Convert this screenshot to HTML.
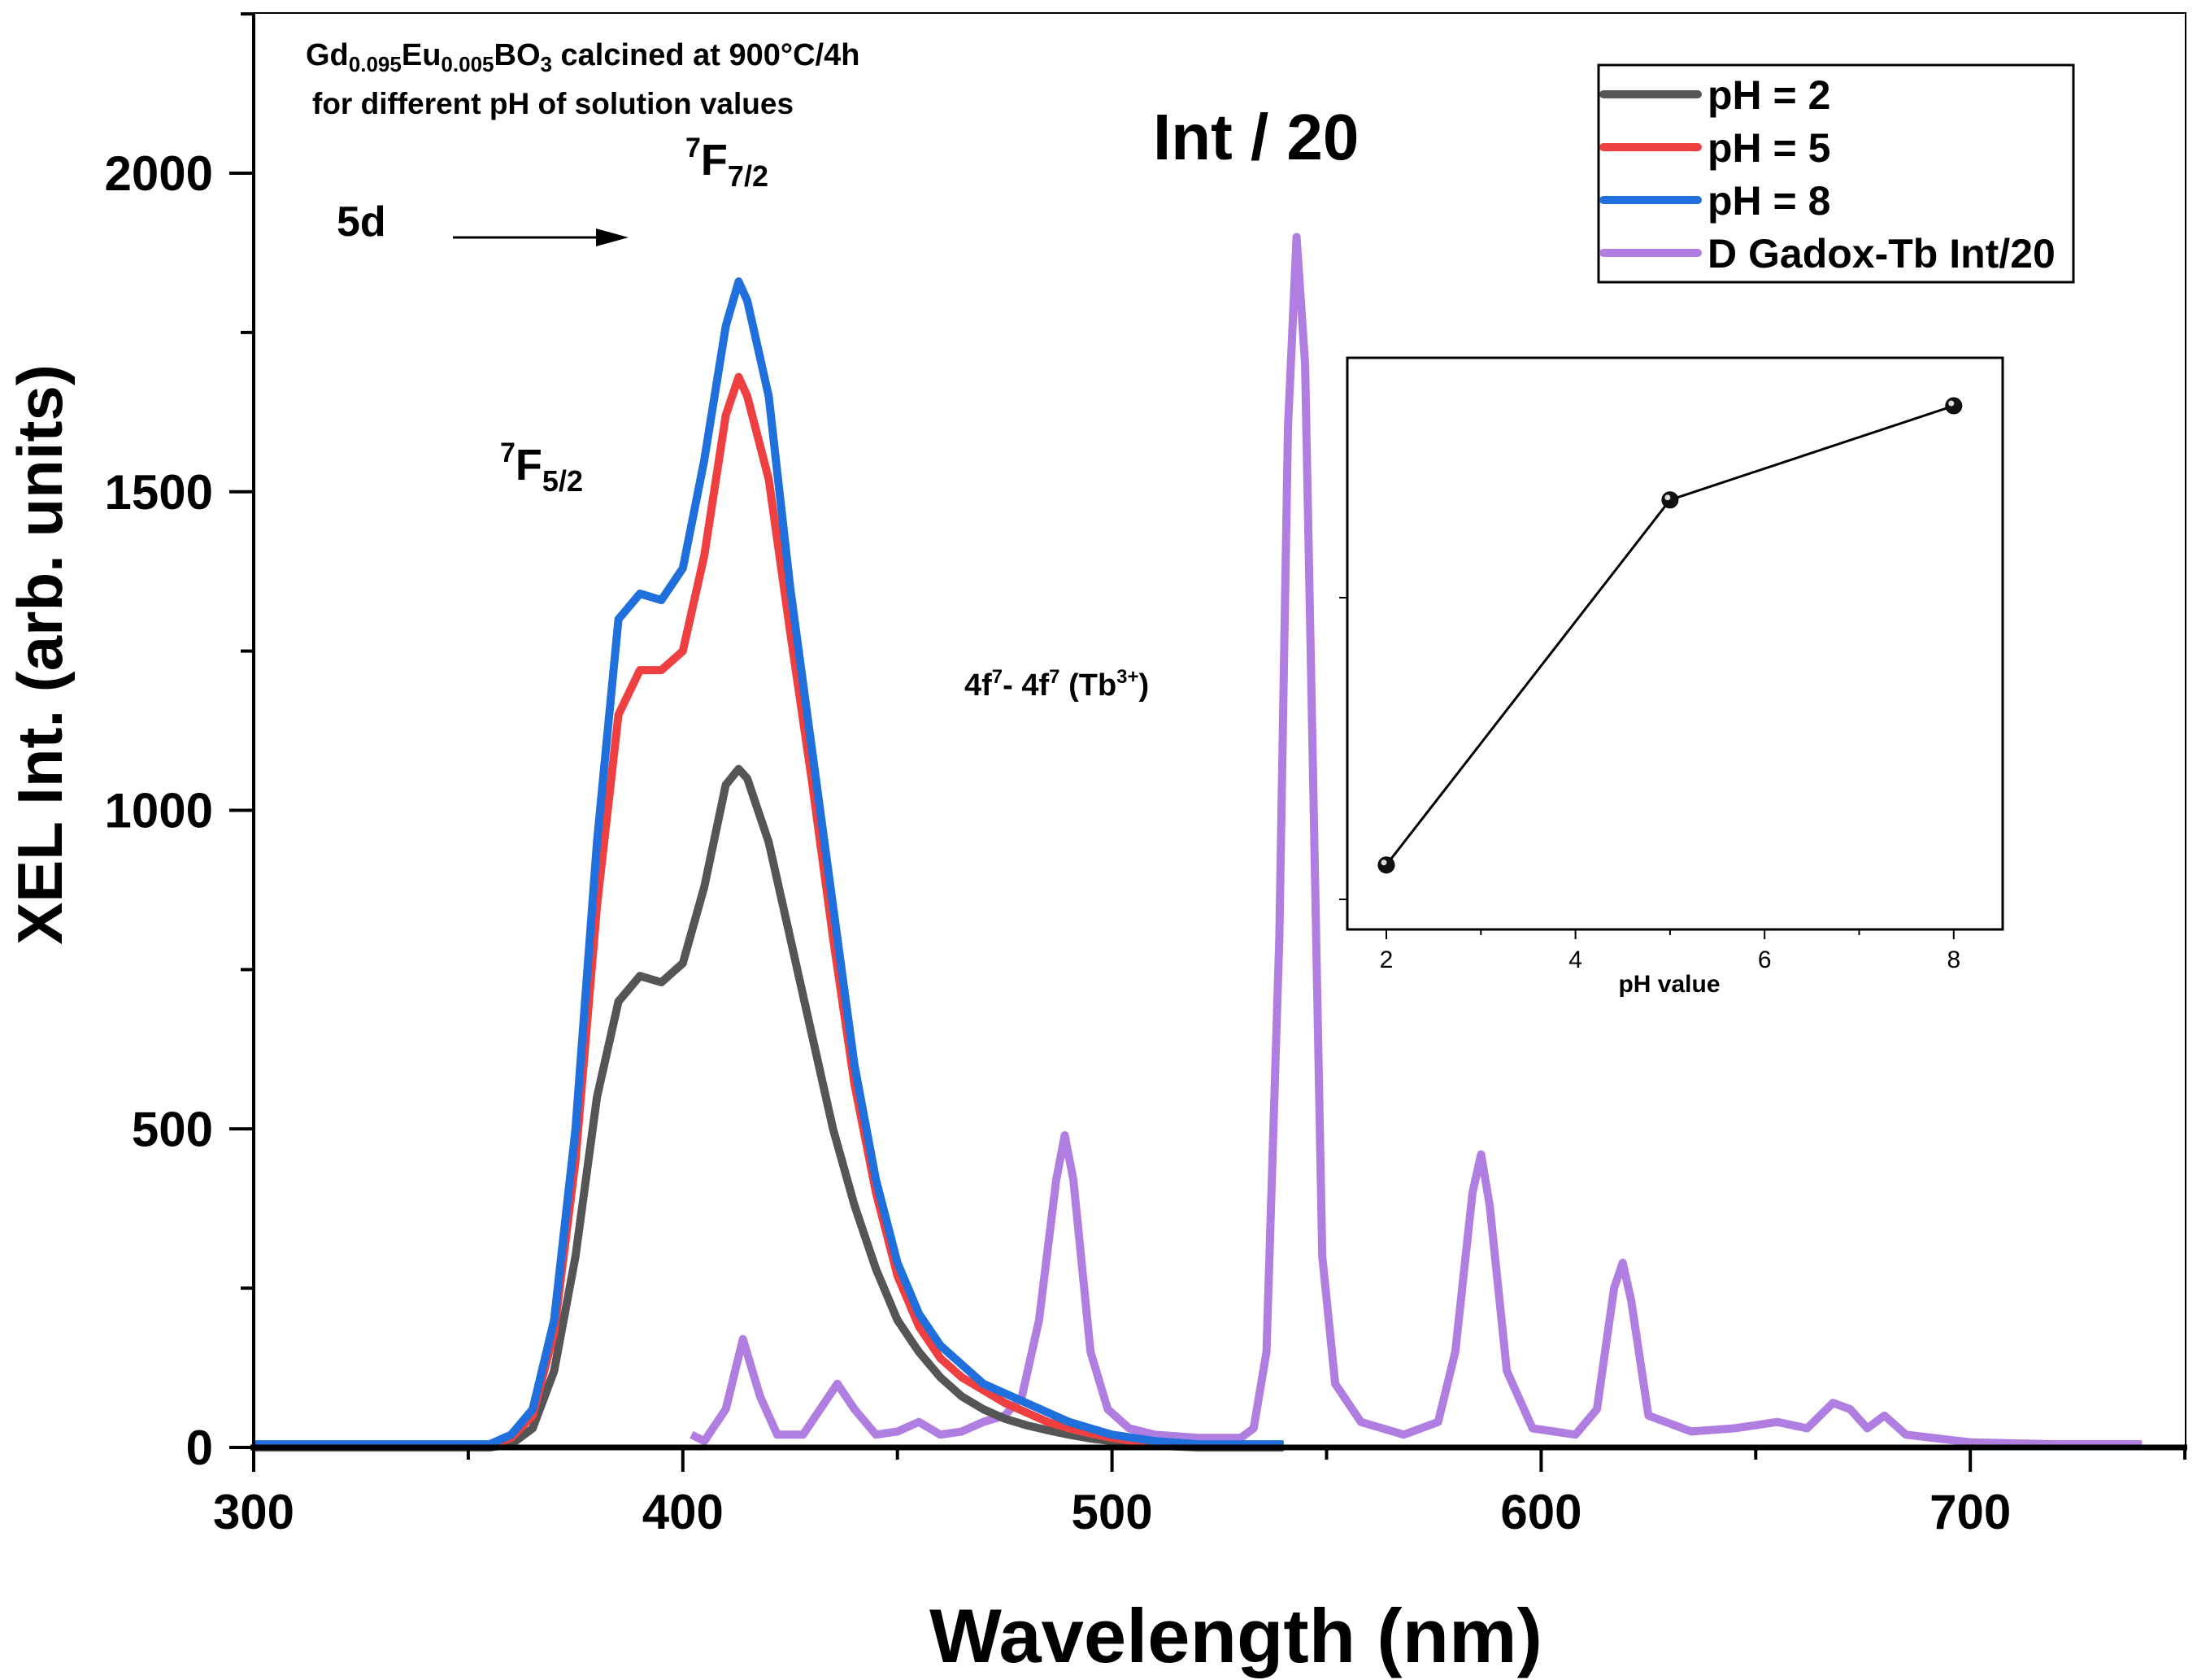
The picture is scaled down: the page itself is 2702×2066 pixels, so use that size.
<!DOCTYPE html>
<html><head><meta charset="utf-8"><style>
body{margin:0;background:#fff}
svg{display:block;font-family:"Liberation Sans",Arial,sans-serif}
</style></head><body>
<svg id="chart" width="2702" height="2066" viewBox="0 0 2702 2066" xmlns="http://www.w3.org/2000/svg">
<rect width="2702" height="2066" fill="#fff"/>
<g id="plot"></g>
<g id="axes"></g>
<g id="ann" font-weight="bold" fill="#000">
<text x="376" y="80" font-size="38">Gd<tspan font-size="26" dy="8">0.095</tspan><tspan dy="-8">Eu</tspan><tspan font-size="26" dy="8">0.005</tspan><tspan dy="-8">BO</tspan><tspan font-size="26" dy="8">3</tspan><tspan dy="-8"> calcined at 900°C/4h</tspan></text>
<text x="384" y="140" font-size="37">for different pH of solution values</text>
<text x="1418" y="196" font-size="80">Int / 20</text>
<text x="414" y="290" font-size="52">5d</text>
<line x1="557" y1="292" x2="750" y2="292" stroke="#000" stroke-width="3"/>
<polygon points="773,292 733,281 733,303" fill="#000"/>
<text x="843" y="215" font-size="54"><tspan font-size="34" dy="-22">7</tspan><tspan dy="22">F</tspan><tspan font-size="36" dy="14">7/2</tspan></text>
<text x="615" y="590" font-size="54"><tspan font-size="34" dy="-22">7</tspan><tspan dy="22">F</tspan><tspan font-size="36" dy="14">5/2</tspan></text>
<text x="1186" y="855" font-size="38">4f<tspan font-size="24" dy="-15">7</tspan><tspan dy="15">- 4f</tspan><tspan font-size="24" dy="-15">7</tspan><tspan dy="15"> (Tb</tspan><tspan font-size="24" dy="-15">3+</tspan><tspan dy="15">)</tspan></text>
<text transform="translate(76,805) rotate(-90)" text-anchor="middle" font-size="78">XEL Int. (arb. units)</text>
<text x="1520" y="2044" text-anchor="middle" font-size="94">Wavelength (nm)</text>
</g>
<g id="legend"></g>
<g id="inset"></g>
</svg>
<script>
const ns="http://www.w3.org/2000/svg";
const wlMain=[300,355,360,365,370,375,380,385,390,395,400,405,410,413,415,420,425,430,435,440,445,450,455,460,465,470,475,480,485,490,495,500,510,520,540];
const ph8=[5,5,20,60,200,500,950,1300,1340,1330,1380,1550,1760,1830,1800,1650,1350,1100,850,600,420,290,210,160,130,100,85,70,55,40,30,20,10,5,5];
const ph5=[3,3,15,50,180,450,850,1150,1220,1220,1250,1400,1620,1680,1650,1520,1280,1050,800,570,400,270,190,140,110,90,70,55,40,30,22,15,5,3,3];
const ph2=[0,0,5,30,120,300,550,700,740,730,760,880,1040,1065,1050,950,800,650,500,380,280,200,150,110,80,60,45,35,27,20,14,10,3,0,0];
const wlTb=[402,405,410,414,418,422,428,432,436,440,445,450,455,460,465,470,475,479,483,487,489,491,495,499,504,510,520,530,533,536,539,541,543,545,547,549,552,558,568,576,580,584,586,588,592,598,608,613,617,619,621,625,635,645,655,662,668,672,676,680,685,700,720,740];
const tb=[20,10,60,170,80,20,20,60,100,60,20,25,40,20,25,40,50,80,200,420,490,420,150,60,30,20,15,15,30,150,800,1600,1900,1700,1000,300,100,40,20,40,150,400,460,380,120,30,20,60,250,290,230,50,25,30,40,30,70,60,30,50,20,8,5,5];
const xTicks=[300,400,500,600,700];
const yTicks=[0,500,1000,1500,2000];
const insetPH=[2,5,8];
const insetInt=[1057,1662,1818];
const insetXTicks=[2,4,6,8];

const X0=312,PXX=5.278,Y0=1780,PXY=0.7835;
const sx=v=>X0+(v-300)*PXX, sy=v=>Y0-v*PXY;
const plot=document.getElementById('plot'), axes=document.getElementById('axes');
function mk(tag,attrs,parent){const e=document.createElementNS(ns,tag);for(const k in attrs)e.setAttribute(k,attrs[k]);parent.appendChild(e);return e;}
function line(xs,ys,color,name,fx,fy){
  const d=xs.map((x,i)=>(i?'L':'M')+fx(x).toFixed(1)+','+fy(ys[i]).toFixed(1)).join('');
  const p=mk('path',{d:d,fill:'none',stroke:color,'stroke-width':10,'stroke-linejoin':'round'},plot);
  
  
  return p;
}
line(wlTb,tb,'#b07ee0','series-gadox-tb',sx,sy);
line(wlMain,ph2,'#555555','series-ph2',sx,sy);
line(wlMain,ph5,'#ee4040','series-ph5',sx,sy);
line(wlMain,ph8,'#1f6fdc','series-ph8',sx,sy);

const fr=mk('path',{d:'M312,16 L2688,16 L2688,1780',fill:'none',stroke:'#000','stroke-width':2},axes);


const xa=mk('line',{x1:308,y1:1780,x2:2690,y2:1780,stroke:'#000','stroke-width':7},axes);


const ya=mk('line',{x1:312,y1:16,x2:312,y2:1783,stroke:'#000','stroke-width':4},axes);


for(let v=300;v<=750;v+=50){
  const maj=v%100===0;
  const t=mk('line',{x1:sx(v),y1:1780,x2:sx(v),y2:maj?1810:1795,stroke:'#000','stroke-width':4},axes);
  
  
}
xTicks.forEach(v=>{
  const t=mk('text',{x:sx(v),y:1880,'text-anchor':'middle','font-size':60,'font-weight':'bold'},axes);
  t.textContent=v;
  
  
});
for(let v=0;v<=2250;v+=250){
  const maj=v%500===0;
  const t=mk('line',{x1:maj?282:296,y1:sy(v),x2:312,y2:sy(v),stroke:'#000','stroke-width':4},axes);
  
  
}
yTicks.forEach(v=>{
  const t=mk('text',{x:262,y:sy(v)+21,'text-anchor':'end','font-size':60,'font-weight':'bold'},axes);
  t.textContent=v;
  
  
});

const lg=document.getElementById('legend');
const lb=mk('rect',{x:1966,y:80,width:584,height:267,fill:'#fff',stroke:'#000','stroke-width':3},lg);


const legItems=[['pH = 2','#555555'],['pH = 5','#ee4040'],['pH = 8','#1f6fdc'],['D Gadox-Tb Int/20','#b07ee0']];
legItems.forEach((it,i)=>{
  const y=116+i*65;
  const l=mk('line',{x1:1972,y1:y,x2:2088,y2:y,stroke:it[1],'stroke-width':10,'stroke-linecap':'round'},lg);
  
  
  const t=mk('text',{x:2100,y:y+18,'font-size':50,'font-weight':'bold'},lg);
  t.textContent=it[0];
  
  
});

const ig=document.getElementById('inset');
const ix=v=>1705+(v-2)*116.3, iy=v=>1106-(v-1000)*0.742;
const ib=mk('rect',{x:1657,y:440,width:806,height:703,fill:'#fff',stroke:'#000','stroke-width':3},ig);


for(let v=2;v<=8;v++){
  const maj=v%2===0;
  const t=mk('line',{x1:ix(v),y1:1143,x2:ix(v),y2:maj?1155:1150,stroke:'#000','stroke-width':2},ig);
  
  
}
insetXTicks.forEach(v=>{
  const t=mk('text',{x:ix(v),y:1190,'text-anchor':'middle','font-size':30},ig);
  t.textContent=v;
  
  
});
[1000,1500].forEach(v=>{
  const t=mk('line',{x1:1647,y1:iy(v),x2:1657,y2:iy(v),stroke:'#000','stroke-width':2},ig);
  
  
});
const it=mk('text',{x:2053,y:1220,'text-anchor':'middle','font-size':30,'font-weight':'bold'},ig);
it.textContent='pH value';


const ip=mk('path',{d:insetPH.map((p,i)=>(i?'L':'M')+ix(p)+','+iy(insetInt[i])).join(''),fill:'none',stroke:'#000','stroke-width':3},ig);


insetPH.forEach((p,i)=>{
  const c=mk('circle',{cx:ix(p),cy:iy(insetInt[i]),r:10,fill:'#111',stroke:'#000','stroke-width':1},ig);
  
  
  const h=mk('circle',{cx:ix(p)-3,cy:iy(insetInt[i])-3,r:3.5,fill:'#ddd'},ig);
  
  
});
</script>
</body></html>
